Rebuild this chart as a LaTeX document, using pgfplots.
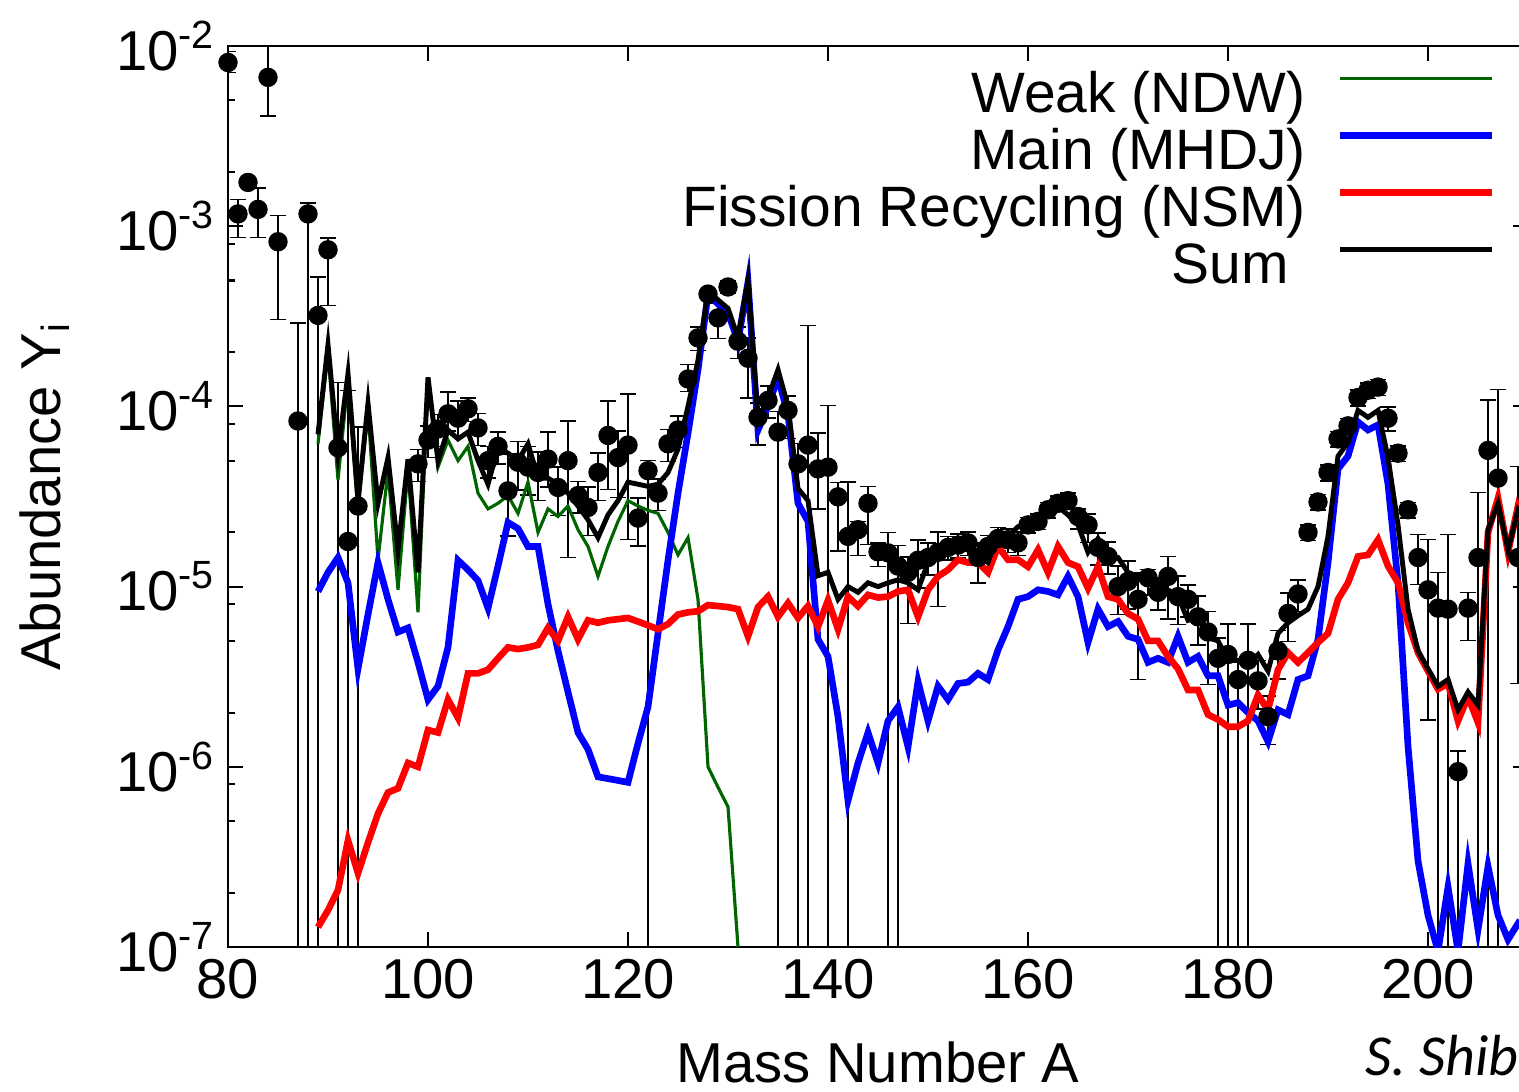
\documentclass[border=0pt]{standalone}
\usepackage{fontspec}
\setmainfont{Liberation Sans}
\newfontfamily\sigfont{Carlito}
\usepackage{pgfplots}
\usepackage{pgfplotstable}
\pgfplotsset{compat=1.18}

\definecolor{wkgreen}{RGB}{0,100,0}

% solar r-process abundances, relative error bars (0.99999 = bar to the bottom)
\pgfplotstableread{
A Y ep em
80 8.1e-3 0.15 0.12
81 1.17e-3 0.20 0.26
82 1.75e-3 0 0
83 1.24e-3 0.31 0.30
84 6.7e-3 0.6 0.39
85 8.2e-4 0.4 0.63
87 8.3e-5 2.5 0.99999
88 1.17e-3 0.15 0.99999
89 3.2e-4 0.63 0.99999
90 7.4e-4 0.16 0.51
91 5.9e-5 1.3 0.99999
92 1.78e-5 5.9 0.99999
93 2.8e-5 1.75 0.99999
99 4.8e-5 0.2 0.2
100 6.5e-5 0.2 0.2
101 7.5e-5 0.2 0.2
102 9.1e-5 0.32 0.2
103 8.6e-5 0.25 0.2
104 9.7e-5 0.15 0.15
105 7.6e-5 0.2 0.2
106 5.0e-5 0.2 0.2
107 6.0e-5 0.2 0.2
108 3.4e-5 0.6 0.44
109 4.9e-5 0.3 0.3
110 4.6e-5 0.3 0.3
111 4.3e-5 0.3 0.3
112 5.1e-5 0.41 0.3
113 3.55e-5 0.3 0.3
114 5.0e-5 0.66 0.71
115 3.2e-5 0.2 0.2
116 2.75e-5 0.3 0.3
117 4.3e-5 0.28 0.3
118 6.9e-5 0.55 0.5
119 5.2e-5 0.4 0.4
120 6.1e-5 0.92 0.7
121 2.4e-5 0.29 0.3
122 4.4e-5 0.14 0.99999
123 3.3e-5 0.2 0.2
124 6.2e-5 0.2 0.2
125 7.4e-5 0.2 0.2
126 1.42e-4 0.2 0.15
127 2.4e-4 0.15 0.15
128 4.2e-4 0.05 0.05
129 3.1e-4 0.2 0.23
130 4.6e-4 0.08 0.08
131 2.3e-4 0.2 0.2
132 1.85e-4 0.3 0.4
133 8.7e-5 0.2 0.3
134 1.08e-4 0.2 0.2
135 7.2e-5 0.3 0.99999
136 9.5e-5 0.2 0.3
137 4.8e-5 0.3 0.99999
138 6.1e-5 3.6 0.99999
139 4.5e-5 0.58 0.4
140 4.6e-5 1.2 0.99999
141 3.15e-5 0.2 0.5
142 1.9e-5 1.0 0.99999
143 2.07e-5 0.11 0.28
144 2.9e-5 0.24 0.41
145 1.56e-5 0.12 0.17
146 1.54e-5 0.3 0.99999
147 1.3e-5 0.3 0.99999
148 1.2e-5 0.22 0.48
149 1.4e-5 0.3 0.3
150 1.45e-5 0.2 0.2
151 1.55e-5 0.3 0.5
152 1.65e-5 0.15 0.15
153 1.7e-5 0.15 0.15
154 1.75e-5 0.15 0.15
155 1.45e-5 0.2 0.28
156 1.67e-5 0.15 0.15
157 1.85e-5 0.15 0.15
158 1.82e-5 0.15 0.15
159 1.75e-5 0.15 0.15
160 2.2e-5 0.1 0.1
161 2.3e-5 0.1 0.1
162 2.67e-5 0.1 0.1
163 2.9e-5 0.1 0.1
164 3.0e-5 0.1 0.1
165 2.45e-5 0.1 0.15
166 2.2e-5 0.15 0.2
167 1.65e-5 0.2 0.2
168 1.47e-5 0.2 0.2
169 1.0e-5 0.3 0.3
170 1.07e-5 0.3 0.3
171 8.5e-6 0.4 0.64
172 1.12e-5 0.11 0.2
173 9.3e-6 0.2 0.2
174 1.14e-5 0.29 0.42
175 8.8e-6 0.3 0.3
176 8.5e-6 0.2 0.2
177 6.8e-6 0.3 0.3
178 5.6e-6 0.3 0.49
179 4.0e-6 0.3 0.99999
180 4.2e-6 0.48 0.99999
181 3.05e-6 0.3 0.99999
182 3.9e-6 0.59 0.99999
183 3.0e-6 0.3 0.3
184 1.9e-6 0.3 0.3
185 4.4e-6 0.3 0.3
186 7.1e-6 0.3 0.3
187 9.1e-6 0.2 0.2
188 2.0e-5 0.1 0.1
189 2.95e-5 0.1 0.1
190 4.3e-5 0.1 0.1
191 6.6e-5 0.1 0.1
192 7.8e-5 0.1 0.1
193 1.12e-4 0.1 0.1
194 1.23e-4 0.1 0.1
195 1.28e-4 0.1 0.1
196 8.6e-5 0.15 0.15
197 5.5e-5 0.1 0.1
198 2.67e-5 0.1 0.1
199 1.45e-5 0.34 0.29
200 9.6e-6 0.9 0.81
201 7.6e-6 0.58 0.99999
202 7.5e-6 1.6 0.99999
203 9.4e-7 0.3 0.99999
204 7.6e-6 0.22 0.34
205 1.45e-5 1.3 0.99999
206 5.7e-5 0.9 0.99999
207 4.0e-5 2.1 0.99999
209 1.45e-5 2.2 0.8
}\obs

\pgfplotstableread{
A Y
89 6.2e-5
90 2.0e-4
91 3.9e-5
92 1.4e-4
93 2.6e-5
94 9.6e-5
95 1.41e-5
96 4.4e-5
97 9.6e-6
98 4.5e-5
99 7.2e-6
100 1.4e-4
101 4.6e-5
102 6.5e-5
103 5.0e-5
104 6.0e-5
105 3.3e-5
106 2.7e-5
107 2.9e-5
108 3.2e-5
109 2.55e-5
110 3.8e-5
111 2.0e-5
112 2.7e-5
113 2.45e-5
114 2.8e-5
115 2.07e-5
116 1.67e-5
117 1.14e-5
118 1.67e-5
119 2.3e-5
120 3.0e-5
121 2.8e-5
122 2.65e-5
123 2.55e-5
124 2.0e-5
125 1.5e-5
126 1.87e-5
127 8.5e-6
128 1.0e-6
129 7.7e-7
130 6.0e-7
131 1.0e-7
}\weak

\pgfplotstableread{
A Y
89 9.4e-6
90 1.2e-5
91 1.45e-5
92 1.05e-5
93 3.5e-6
94 7.0e-6
95 1.36e-5
96 8.5e-6
97 5.6e-6
98 5.9e-6
99 3.8e-6
100 2.36e-6
101 2.8e-6
102 4.6e-6
103 1.4e-5
104 1.24e-5
105 1.08e-5
106 7.6e-6
107 1.3e-5
108 2.27e-5
109 2.1e-5
110 1.67e-5
111 1.67e-5
112 8.0e-6
113 4.4e-6
114 2.6e-6
115 1.55e-6
116 1.25e-6
117 8.8e-7
118 8.6e-7
119 8.4e-7
120 8.2e-7
121 1.35e-6
122 2.15e-6
123 5.5e-6
124 1.4e-5
125 3.3e-5
126 7.1e-5
127 1.6e-4
128 4.2e-4
129 3.7e-4
130 3.3e-4
131 2.3e-4
132 4.9e-4
133 7.4e-5
134 1.0e-4
135 1.45e-4
136 9.0e-5
137 2.9e-5
138 2.3e-5
139 5.1e-6
140 4.1e-6
141 1.9e-6
142 6.5e-7
143 1.05e-6
144 1.55e-6
145 1.05e-6
146 1.8e-6
147 2.15e-6
148 1.29e-6
149 2.97e-6
150 1.8e-6
151 2.8e-6
152 2.36e-6
153 2.9e-6
154 2.95e-6
155 3.3e-6
156 3.05e-6
157 4.45e-6
158 6.0e-6
159 8.5e-6
160 8.8e-6
161 9.6e-6
162 9.4e-6
163 9.0e-6
164 1.14e-5
165 8.8e-6
166 4.9e-6
167 7.5e-6
168 6.0e-6
169 6.4e-6
170 5.3e-6
171 5.1e-6
172 3.8e-6
173 4.0e-6
174 3.8e-6
175 5.3e-6
176 3.8e-6
177 4.1e-6
178 3.2e-6
179 3.2e-6
180 2.2e-6
181 2.27e-6
182 2.0e-6
183 1.8e-6
184 1.38e-6
185 2.07e-6
186 1.95e-6
187 3.05e-6
188 3.2e-6
189 5.1e-6
190 1.36e-5
191 4.5e-5
192 5.3e-5
193 8.2e-5
194 7.4e-5
195 7.9e-5
196 3.7e-5
197 1.05e-5
198 1.3e-6
199 3.0e-7
200 1.5e-7
201 9.5e-8
202 2.15e-7
203 9.5e-8
204 2.9e-7
205 1.25e-7
206 2.8e-7
207 1.5e-7
208 1.1e-7
209 1.35e-7
210 1.2e-7
}\main

\pgfplotstableread{
A Y
89 1.29e-7
90 1.6e-7
91 2.07e-7
92 3.9e-7
93 2.57e-7
94 3.8e-7
95 5.5e-7
96 7.2e-7
97 7.6e-7
98 1.05e-6
99 1.0e-6
100 1.6e-6
101 1.55e-6
102 2.36e-6
103 1.87e-6
104 3.3e-6
105 3.3e-6
106 3.46e-6
107 4.0e-6
108 4.6e-6
109 4.5e-6
110 4.6e-6
111 4.75e-6
112 5.9e-6
113 5.0e-6
114 6.8e-6
115 5.1e-6
116 6.5e-6
117 6.3e-6
118 6.5e-6
119 6.6e-6
120 6.7e-6
121 6.4e-6
122 6.1e-6
123 5.8e-6
124 6.2e-6
125 7.0e-6
126 7.2e-6
127 7.3e-6
128 7.9e-6
129 7.8e-6
130 7.7e-6
131 7.5e-6
132 5.3e-6
133 7.7e-6
134 8.8e-6
135 6.8e-6
136 8.1e-6
137 6.7e-6
138 7.8e-6
139 6.0e-6
140 8.4e-6
141 5.8e-6
142 8.8e-6
143 7.8e-6
144 9.0e-6
145 8.7e-6
146 8.8e-6
147 9.4e-6
148 9.6e-6
149 6.8e-6
150 9.6e-6
151 1.14e-5
152 1.24e-5
153 1.41e-5
154 1.36e-5
155 1.36e-5
156 1.2e-5
157 1.67e-5
158 1.41e-5
159 1.41e-5
160 1.29e-5
161 1.6e-5
162 1.2e-5
163 1.67e-5
164 1.36e-5
165 1.29e-5
166 9.8e-6
167 1.29e-5
168 8.8e-6
169 8.5e-6
170 7.1e-6
171 6.6e-6
172 5.0e-6
173 5.0e-6
174 4.1e-6
175 3.5e-6
176 2.67e-6
177 2.67e-6
178 1.95e-6
179 1.83e-6
180 1.67e-6
181 1.67e-6
182 1.8e-6
183 2.5e-6
184 2.07e-6
185 3.46e-6
186 4.3e-6
187 3.8e-6
188 4.3e-6
189 4.9e-6
190 5.5e-6
191 8.5e-6
192 1.05e-5
193 1.47e-5
194 1.5e-5
195 1.82e-5
196 1.3e-5
197 1.05e-5
198 6.3e-6
199 4.3e-6
200 3.4e-6
201 2.7e-6
202 2.9e-6
203 1.8e-6
204 2.45e-6
205 1.76e-6
206 2.0e-5
207 3.1e-5
208 1.55e-5
209 2.8e-5
210 2.2e-5
}\fission

\pgfplotstableread{
A Y
89 7.0e-5
90 2.2e-4
91 5.5e-5
92 1.52e-4
93 3.0e-5
94 1.04e-4
95 2.9e-5
96 5.2e-5
97 1.6e-5
98 5.1e-5
99 1.2e-5
100 1.45e-4
101 5.0e-5
102 7.4e-5
103 6.6e-5
104 7.2e-5
105 5.0e-5
106 3.7e-5
107 5.9e-5
108 5.5e-5
109 5.0e-5
110 6.2e-5
111 4.0e-5
112 4.0e-5
113 3.7e-5
114 3.3e-5
115 2.8e-5
116 2.35e-5
117 1.87e-5
118 2.5e-5
119 3.0e-5
120 3.8e-5
121 3.7e-5
122 3.6e-5
123 3.7e-5
124 4.3e-5
125 5.8e-5
126 1.0e-4
127 1.8e-4
128 4.4e-4
129 3.9e-4
130 3.5e-4
131 2.4e-4
132 5.0e-4
133 8.4e-5
134 1.12e-4
135 1.6e-4
136 1.0e-4
137 3.5e-5
138 3.0e-5
139 1.15e-5
140 1.2e-5
141 8.5e-6
142 1.0e-5
143 9.3e-6
144 1.05e-5
145 1.0e-5
146 1.05e-5
147 1.09e-5
148 1.05e-5
149 9.6e-6
150 1.36e-5
151 1.47e-5
152 1.6e-5
153 1.67e-5
154 1.6e-5
155 1.47e-5
156 1.36e-5
157 2.0e-5
158 1.9e-5
159 2.15e-5
160 2.27e-5
161 2.35e-5
162 2.57e-5
163 2.78e-5
164 2.5e-5
165 2.2e-5
166 1.55e-5
167 1.85e-5
168 1.5e-5
169 1.45e-5
170 1.2e-5
171 1.14e-5
172 1.05e-5
173 1.05e-5
174 9.6e-6
175 8.8e-6
176 6.5e-6
177 6.8e-6
178 5.2e-6
179 5.0e-6
180 3.9e-6
181 3.9e-6
182 3.7e-6
183 4.2e-6
184 3.4e-6
185 5.5e-6
186 6.3e-6
187 6.9e-6
188 7.5e-6
189 1.0e-5
190 1.9e-5
191 5.3e-5
192 6.3e-5
193 9.5e-5
194 8.7e-5
195 9.5e-5
196 5.2e-5
197 2.2e-5
198 7.5e-6
199 4.4e-6
200 3.5e-6
201 2.8e-6
202 3.05e-6
203 2.07e-6
204 2.6e-6
205 2.2e-6
206 2.07e-5
207 2.9e-5
208 1.6e-5
209 2.67e-5
210 2.2e-5
}\total

\begin{document}
\begin{tikzpicture}
\begin{axis}[
  scale only axis, width=130mm, height=90.1mm,
  xmin=80, xmax=210, ymin=1e-7, ymax=1e-2, ymode=log,
  xtick={80,100,...,200},
  ytick={1e-7,1e-6,1e-5,1e-4,1e-3,1e-2},
  yticklabels={10\textsuperscript{-7},10\textsuperscript{-6},10\textsuperscript{-5},10\textsuperscript{-4},10\textsuperscript{-3},10\textsuperscript{-2}},
  minor ytick={2e-7,5e-7,8e-7,2e-6,5e-6,8e-6,2e-5,5e-5,8e-5,2e-4,5e-4,8e-4,2e-3,5e-3,8e-3},
  tick align=inside, major tick length=1.5mm, minor tick length=0.7mm,
  every tick/.style={black, line width=0.6pt},
  axis line style={line width=0.6pt},
  /pgf/number format/assume math mode=true,
  ticklabel style={font=\fontsize{16}{19}\selectfont},
  label style={font=\fontsize{16}{19}\selectfont},
  xlabel={Mass Number A},
  ylabel={Abundance Y\textsubscript{i}},
  xlabel style={at={(axis description cs:0.5,-0.128)}, anchor=center},
  ylabel style={at={(axis description cs:-0.1408,0.5)}, anchor=center},
  legend plot pos=right,
  legend cell align=right,
  legend image code/.code={\draw[#1] (0mm,2mm) -- (15.2mm,2mm);},
  legend style={at={(axis description cs:0.9754,0.9745)}, anchor=north east,
    draw=none, fill=none, inner sep=0pt, row sep=0pt, column sep=2.7mm,
    font=\fontsize{16.2}{19}\selectfont,
    nodes={text height=3.9mm, text depth=1.0mm, inner sep=0.4mm}},
]
\addplot[forget plot, only marks, mark=*, mark size=0.9mm, black,
  error bars/.cd, y dir=both, y explicit relative,
  error bar style={line width=0.45pt, black},
  error mark options={rotate=90, mark size=0.8mm, line width=0.45pt, black}]
  table[x=A, y=Y, y error plus=ep, y error minus=em] {\obs};
\addplot[wkgreen, line width=0.9pt] table[x=A, y=Y] {\weak};
\addlegendentry{Weak (NDW)}
\addplot[blue, line width=1.9pt] table[x=A, y=Y] {\main};
\addlegendentry{Main (MHDJ)}
\addplot[red, line width=1.9pt] table[x=A, y=Y] {\fission};
\addlegendentry{Fission Recycling (NSM)}
\addplot[black, line width=1.4pt] table[x=A, y=Y] {\total};
\addlegendentry{Sum\hspace*{1.7mm}}
\end{axis}
\node[anchor=base west, inner sep=0pt, font=\sigfont\itshape\fontsize{16.5}{19}\selectfont]
  at (113.7mm,-12.8mm) {S. Shib};
\pgfresetboundingbox
\useasboundingbox (-22.8mm,-14.4mm) rectangle (129.1mm,94.7mm);
\end{tikzpicture}
\end{document}
